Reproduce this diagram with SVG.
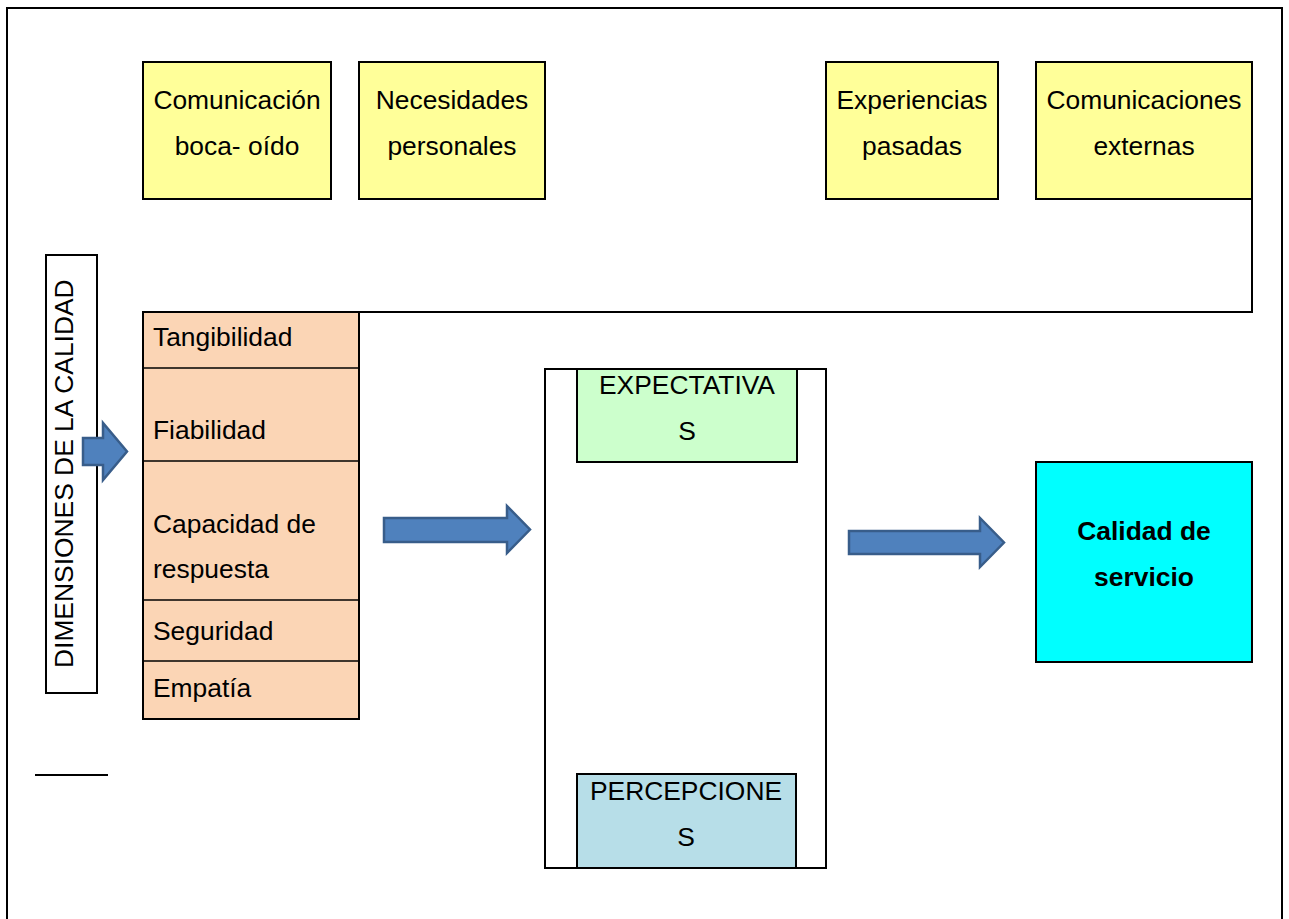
<svg xmlns="http://www.w3.org/2000/svg" width="1289" height="919" viewBox="0 0 1289 919">
<style>
text{font-family:"Liberation Sans",Arial,sans-serif;font-size:26.4px;fill:#000}
.c{text-anchor:middle}
.b{stroke:#000;stroke-width:2}
.thin{stroke:#000;stroke-width:1.5}
.arr{fill:#4F81BD;stroke:#385D8A;stroke-width:2.5}
</style>
<rect width="1289" height="919" fill="#fff"/>
<path d="M7,919 V8 H1282 V919" fill="none" stroke="#000" stroke-width="2"/>
<g id="n1"><rect x="143" y="62" width="188" height="137" fill="#FFFF99" class="b"/><text x="237" y="109" class="c">Comunicación</text><text x="237" y="155" class="c">boca- oído</text></g>
<g id="n2"><rect x="359" y="62" width="186" height="137" fill="#FFFF99" class="b"/><text x="452" y="109" class="c">Necesidades</text><text x="452" y="155" class="c">personales</text></g>
<g id="n3"><rect x="826" y="62" width="172" height="137" fill="#FFFF99" class="b"/><text x="912" y="109" class="c">Experiencias</text><text x="912" y="155" class="c">pasadas</text></g>
<g id="n4"><rect x="1036" y="62" width="216" height="137" fill="#FFFF99" class="b"/><text x="1144" y="109" class="c">Comunicaciones</text><text x="1144" y="155" class="c">externas</text></g>
<g id="dim"><rect x="46" y="255" width="51" height="438" fill="#fff" class="b"/><text transform="translate(73,668) rotate(-90)">DIMENSIONES DE LA CALIDAD</text></g>
<g id="tabla">
<rect x="143" y="312" width="216" height="407" fill="#FBD5B5" class="b"/>
<line x1="143" y1="368" x2="359" y2="368" class="thin"/>
<line x1="143" y1="461" x2="359" y2="461" class="thin"/>
<line x1="143" y1="600" x2="359" y2="600" class="thin"/>
<line x1="143" y1="661" x2="359" y2="661" class="thin"/>
<text x="153" y="346">Tangibilidad</text>
<text x="153" y="439">Fiabilidad</text>
<text x="153" y="533">Capacidad de</text>
<text x="153" y="578">respuesta</text>
<text x="153" y="640">Seguridad</text>
<text x="153" y="697">Empatía</text>
</g>
<g id="centro"><rect x="545" y="369" width="281" height="499" fill="#fff" class="b"/></g>
<g id="expectativas"><rect x="577" y="369" width="220" height="93" fill="#CCFFCC" class="b"/><text x="687" y="394" class="c">EXPECTATIVA</text><text x="687" y="440" class="c">S</text></g>
<g id="percepciones"><rect x="577" y="774" width="219" height="94" fill="#B7DEE8" class="b"/><text x="686" y="800" class="c">PERCEPCIONE</text><text x="686" y="846" class="c">S</text></g>
<g id="calidad"><rect x="1036" y="462" width="216" height="200" fill="#00FFFF" class="b"/><text x="1144" y="540" class="c" font-weight="bold">Calidad de</text><text x="1144" y="586" class="c" font-weight="bold">servicio</text></g>
<line x1="35" y1="775" x2="108" y2="775" stroke="#000" stroke-width="2"/>
<g id="connectors">
<polyline points="1252,199 1252,312 359,312" fill="none" stroke="#000" stroke-width="2"/>
<polygon class="arr" points="83,438 103,438 103,423 127,451.5 103,480 103,465 83,465"/>
<polygon class="arr" points="384,518 507,518 507,506 530,529.5 507,553 507,542 384,542"/>
<polygon class="arr" points="849,531 980,531 980,518 1004,542.5 980,567 980,554 849,554"/>
</g>
</svg>
